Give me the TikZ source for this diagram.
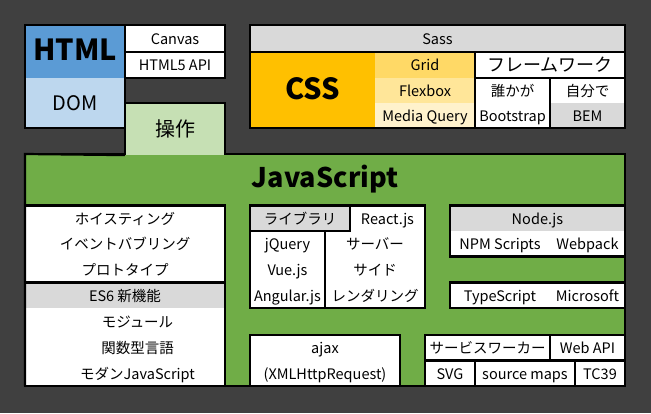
\documentclass[tikz,border=0pt]{standalone}
\usepackage{fontspec}
\setmainfont{Noto Sans CJK JP}
\definecolor{bg}{HTML}{404040}
\definecolor{htmlblue}{HTML}{5B9BD5}
\definecolor{domblue}{HTML}{BDD7EE}
\definecolor{sousagreen}{HTML}{C6E0B4}
\definecolor{jsgreen}{HTML}{70AD47}
\definecolor{cssorange}{HTML}{FFC000}
\definecolor{gridc}{HTML}{FFD966}
\definecolor{flexc}{HTML}{FFE699}
\definecolor{mqc}{HTML}{FFF2CC}
\definecolor{grayc}{HTML}{D9D9D9}
\tikzset{
  c/.style={anchor=north west, inner sep=0pt, outer sep=0pt, text=black,
    font=\fontsize{14.5pt}{16pt}\selectfont, text height=11.6pt, text depth=0pt},
  big/.style={font=\fontsize{29pt}{32pt}\selectfont\bfseries, text height=19pt},
  jsbig/.style={font=\fontsize{27pt}{30pt}\selectfont\bfseries, text height=16pt},
  mid/.style={font=\fontsize{20pt}{22pt}\selectfont, text height=16pt},
  fwf/.style={font=\fontsize{18pt}{20pt}\selectfont, text height=14pt},
  wb/.style={fill=white},
  bd/.style={draw=black, line width=2.2pt},
}
\begin{document}
\begin{tikzpicture}[x=1pt,y=-1pt]
\fill[bg] (0,0) rectangle (651,413);
\useasboundingbox (0,0) rectangle (651,413);

% ---------- HTML group ----------
\node[c,big,fill=htmlblue,minimum width=100pt,minimum height=52.7pt] (html) at (25,25) {HTML};
\node[c,mid,fill=domblue,minimum width=100pt,minimum height=50.3pt] (dom) at (25,77.7) {DOM};
\draw[bd] (html.north west) rectangle (dom.south east);
\node[c,wb,bd,minimum width=100pt,minimum height=27pt] (canvas) at (125,25) {Canvas};
\node[c,wb,bd,minimum width=100pt,minimum height=25.7pt] (h5api) at (125,52) {HTML5 API};

% ---------- CSS group ----------
\node[c,fill=grayc,bd,minimum width=375pt,minimum height=27pt] (sass) at (250,25) {Sass};
\node[c,big,fill=cssorange,minimum width=125pt,minimum height=76pt] (css) at (250,52) {CSS};
\node[c,fill=gridc,minimum width=100pt,minimum height=25.7pt] (grid) at (375,52) {Grid};
\node[c,fill=flexc,minimum width=100pt,minimum height=25pt] (flex) at (375,77.7) {Flexbox};
\node[c,fill=mqc,minimum width=100pt,minimum height=25.3pt] (mq) at (375,102.7) {Media Query};
\draw[bd] (css.north west) rectangle (mq.south east);
\node[c,fwf,wb,bd,minimum width=150pt,minimum height=25.7pt] (fw) at (475,52) {フレームワーク};
\node[c,wb,minimum width=75pt,minimum height=25pt] (dareka) at (475,77.7) {誰かが};
\node[c,wb,minimum width=75pt,minimum height=25.3pt] (bootstrap) at (475,102.7) {Bootstrap};
\draw[bd] (dareka.north west) rectangle (bootstrap.south east);
\node[c,wb,minimum width=75pt,minimum height=25pt] (jibun) at (550,77.7) {自分で};
\node[c,fill=grayc,minimum width=75pt,minimum height=25.3pt] (bem) at (550,102.7) {BEM};
\draw[bd] (jibun.north west) rectangle (bem.south east);

% ---------- JavaScript box ----------
\node[c,fill=jsgreen,bd,minimum width=600pt,minimum height=232pt] (js) at (25,154) {};
\node[c,jsbig,minimum width=600pt,minimum height=51.5pt] (jstitle) at (25,154) {JavaScript};

% 操作 joined to the JavaScript box
\node[c,mid,fill=sousagreen,minimum width=100pt,minimum height=52.4pt] (sousa) at (125,102.7) {操作};
\draw[bd] (sousa.south west) -- (sousa.north west) -- (sousa.north east) -- (sousa.south east);

% left column
\node[c,wb,bd,minimum width=200pt,minimum height=180.5pt] (leftcol) at (25,205.5) {};
\node[c,minimum width=200pt,minimum height=25.5pt] (hoist) at (25,205.5) {ホイスティング};
\node[c,minimum width=200pt,minimum height=25.5pt] (bubble) at (25,231) {イベントバブリング};
\node[c,minimum width=200pt,minimum height=26pt] (proto) at (25,256.5) {プロトタイプ};
\node[c,fill=grayc,minimum width=200pt,minimum height=25.5pt] (es6) at (25,282.5) {ES6 新機能};
\draw[bd] (es6.north west) -- (es6.north east);
\draw[bd] (leftcol.north west) rectangle (leftcol.south east);
\node[c,minimum width=175pt,minimum height=27pt] (module) at (50,308) {モジュール};
\node[c,minimum width=175pt,minimum height=25.5pt] (func) at (50,335) {関数型言語};
\node[c,minimum width=175pt,minimum height=25.5pt] (modern) at (50,360.5) {モダンJavaScript};

% library group
\node[c,fill=grayc,minimum width=100pt,minimum height=25.5pt] (lib) at (250,205.5) {ライブラリ};
\node[c,wb,minimum width=75pt,minimum height=25.5pt] (react) at (350,205.5) {React.js};
\node[c,wb,minimum width=75pt,minimum height=25.5pt] (jq) at (250,231) {jQuery};
\node[c,wb,minimum width=75pt,minimum height=26pt] (vue) at (250,256.5) {Vue.js};
\node[c,wb,minimum width=75pt,minimum height=25.5pt] (ang) at (250,282.5) {Angular.js};
\node[c,wb,minimum width=100pt,minimum height=25.5pt] (ssra) at (325,231) {サーバー};
\node[c,wb,minimum width=100pt,minimum height=26pt] (ssrb) at (325,256.5) {サイド};
\node[c,wb,minimum width=100pt,minimum height=25.5pt] (ssrc) at (325,282.5) {レンダリング};
\draw[bd] (lib.north west) rectangle (lib.south east);
\draw[bd] (jq.north west) rectangle (ang.south east);
\draw[bd] (lib.north west) rectangle (ssrc.south east);

% ajax
\node[c,wb,bd,minimum width=150pt,minimum height=51pt] (ajax) at (250,335) {};
\node[c,minimum width=150pt,minimum height=25.5pt] (ajaxa) at (250,335) {ajax};
\node[c,minimum width=150pt,minimum height=25.5pt] (ajaxb) at (250,360.5) {(XMLHttpRequest)};

% Node.js group
\node[c,fill=grayc,minimum width=175pt,minimum height=25.5pt] (nodejs) at (450,205.5) {Node.js};
\node[c,wb,minimum width=100pt,minimum height=25.5pt] (npm) at (450,231) {NPM Scripts};
\node[c,wb,minimum width=75pt,minimum height=25.5pt] (webpack) at (550,231) {Webpack};
\draw[bd] (nodejs.north west) rectangle (webpack.south east);

% TypeScript
\node[c,wb,minimum width=100pt,minimum height=25.5pt] (ts) at (450,282.5) {TypeScript};
\node[c,wb,minimum width=75pt,minimum height=25.5pt] (ms) at (550,282.5) {Microsoft};
\draw[bd] (ts.north west) rectangle (ms.south east);

% Web platform group
\node[c,wb,bd,minimum width=125pt,minimum height=25.5pt] (sw) at (425,335) {サービスワーカー};
\node[c,wb,bd,minimum width=75pt,minimum height=25.5pt] (webapi) at (550,335) {Web API};
\node[c,wb,bd,minimum width=50pt,minimum height=25.5pt] (svg) at (425,360.5) {SVG};
\node[c,wb,bd,minimum width=100pt,minimum height=25.5pt] (smaps) at (475,360.5) {source maps};
\node[c,wb,bd,minimum width=50pt,minimum height=25.5pt] (tc) at (575,360.5) {TC39};

% outer JavaScript border on top
\draw[bd] (js.south west) -- (js.north west) -- (sousa.south west);
\draw[bd] (sousa.south east |- js.north) -- (js.north east) -- (js.south east) -- (js.south west);
\end{tikzpicture}
\end{document}
